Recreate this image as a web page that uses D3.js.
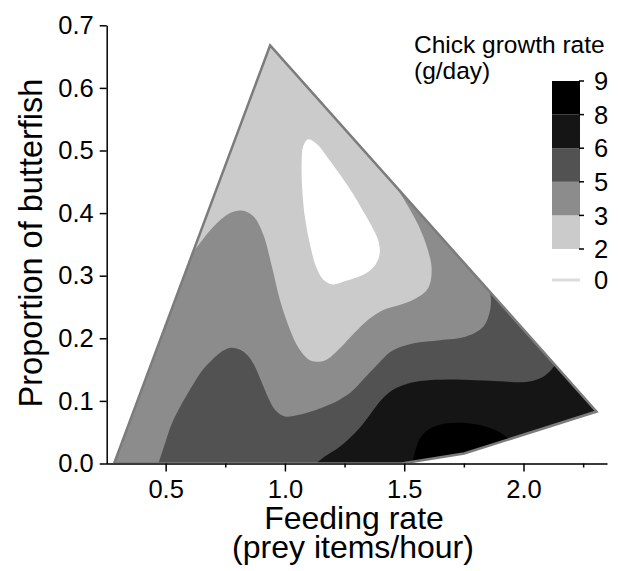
<!DOCTYPE html>
<html>
<head>
<meta charset="utf-8">
<script src="https://cdn.jsdelivr.net/npm/d3@7"></script>
<style>
  body { margin: 0; background: #fff; }
  svg text { font-family: "Liberation Sans", Arial, Helvetica, sans-serif; fill: #000; }
</style>
</head>
<body>
<svg id="chart" width="618" height="571"></svg>
<script>
'use strict';

// sampled region (feeding rate, proportion of butterfish)
var hull = [[0.284, 0], [0.938, 0.668], [2.306, 0.083], [1.751, 0.016], [1.49, 0]];

// contour lines of chick growth rate (g/day)
var contour2 = [
  [1.098, 0.518], [1.135, 0.510], [1.18, 0.488], [1.23, 0.462], [1.28, 0.434],
  [1.325, 0.405], [1.365, 0.378], [1.392, 0.355], [1.397, 0.335], [1.38, 0.318],
  [1.345, 0.305], [1.30, 0.297], [1.25, 0.291], [1.20, 0.286], [1.16, 0.294],
  [1.13, 0.315], [1.105, 0.350], [1.085, 0.39], [1.073, 0.435], [1.070, 0.48],
  [1.077, 0.507]
];
var contour3 = [
  [0.613, 0.336], [0.70, 0.378], [0.77, 0.400], [0.82, 0.404], [0.87, 0.394],
  [0.91, 0.365], [0.945, 0.315], [0.98, 0.26], [1.02, 0.215], [1.06, 0.183],
  [1.11, 0.164], [1.17, 0.165], [1.23, 0.184], [1.29, 0.208], [1.35, 0.230],
  [1.41, 0.245], [1.47, 0.252], [1.54, 0.262], [1.60, 0.280], [1.615, 0.31],
  [1.60, 0.34], [1.56, 0.38], [1.51, 0.415], [1.462, 0.444]
];
var contour5 = [
  [0.47, 0], [0.50, 0.035], [0.526, 0.064], [0.57, 0.097], [0.61, 0.123],
  [0.65, 0.147], [0.693, 0.165], [0.74, 0.180], [0.775, 0.185], [0.81, 0.182],
  [0.84, 0.174], [0.87, 0.158], [0.90, 0.132], [0.93, 0.105], [0.96, 0.085],
  [1.00, 0.075], [1.05, 0.077], [1.10, 0.082], [1.16, 0.090], [1.22, 0.100],
  [1.28, 0.115], [1.33, 0.135], [1.38, 0.155], [1.45, 0.180], [1.54, 0.192],
  [1.65, 0.197], [1.76, 0.203], [1.83, 0.218], [1.86, 0.245], [1.862, 0.268],
  [1.85, 0.279]
];
var contour6 = [
  [1.13, 0], [1.17, 0.012], [1.22, 0.024], [1.27, 0.04], [1.32, 0.06],
  [1.36, 0.08], [1.40, 0.10], [1.45, 0.117], [1.51, 0.127], [1.58, 0.132],
  [1.68, 0.134], [1.80, 0.133], [1.92, 0.131], [2.01, 0.130], [2.07, 0.136],
  [2.11, 0.147], [2.13, 0.157]
];
var contour8 = [
  [1.535, 0.003], [1.55, 0.025], [1.566, 0.040], [1.60, 0.054], [1.65, 0.062],
  [1.72, 0.065], [1.79, 0.063], [1.85, 0.058], [1.90, 0.050], [1.94, 0.039]
];

var levels = [0, 2, 3, 5, 6, 8, 9];
var colours = ['#ffffff', '#cbcbcb', '#8c8c8c', '#525252', '#151515', '#000000'];
var xTicks = [0.5, 1.0, 1.5, 2.0];
var xMinorTicks = [0.75, 1.25, 1.75, 2.25];
var yTicks = [0, 0.1, 0.2, 0.3, 0.4, 0.5, 0.6, 0.7];

var svg = d3.select('#chart');
var x = d3.scaleLinear().domain([0.25, 2.35]).range([106, 607]);
var y = d3.scaleLinear().domain([0, 0.7]).range([463.5, 25.3]);

var smooth = d3.line().x(function (d) { return x(d[0]); }).y(function (d) { return y(d[1]); })
  .curve(d3.curveCatmullRom.alpha(0.5));
var straight = d3.line().x(function (d) { return x(d[0]); }).y(function (d) { return y(d[1]); });

// region >= level: contour line, then back along the hull
var regions = [
  {band: 2, line: contour3, tail: [hull[2], hull[3], hull[4], hull[0]]},
  {band: 3, line: contour5, tail: [hull[2], hull[3], hull[4]]},
  {band: 4, line: contour6, tail: [hull[2], hull[3], hull[4]]},
  {band: 5, line: contour8, tail: [hull[3]]}
];

svg.append('clipPath').attr('id', 'hullClip')
  .append('path').attr('d', straight(hull) + 'Z');

var plot = svg.append('g').attr('clip-path', 'url(#hullClip)');

plot.append('path')
  .attr('d', straight(hull) + 'Z')
  .attr('fill', colours[1]);

plot.append('path')
  .attr('d', d3.line().x(function (d) { return x(d[0]); }).y(function (d) { return y(d[1]); })
    .curve(d3.curveCatmullRomClosed.alpha(0.5))(contour2))
  .attr('fill', colours[0]);

plot.selectAll('path.band')
  .data(regions)
  .enter().append('path')
  .attr('class', 'band')
  .attr('d', function (r) { return smooth(r.line) + straight(r.tail).replace('M', 'L') + 'Z'; })
  .attr('fill', function (r) { return colours[r.band]; });

svg.append('path')
  .attr('d', straight(hull) + 'Z')
  .attr('fill', 'none')
  .attr('stroke', '#7c7c7c')
  .attr('stroke-width', 2.5)
  .attr('stroke-linejoin', 'miter');

// axes
var gx = svg.append('g').attr('transform', 'translate(0,' + y(0) + ')')
  .call(d3.axisBottom(x).tickValues(xTicks).tickFormat(d3.format('.1f'))
    .tickSize(8).tickPadding(8).tickSizeOuter(0));
gx.append('g').call(d3.axisBottom(x).tickValues(xMinorTicks).tickFormat('')
  .tickSize(4).tickSizeOuter(0))
  .select('.domain').remove();
gx.select('.domain').attr('stroke', '#3a3a3a').attr('stroke-width', 2.2);

var gy = svg.append('g').attr('transform', 'translate(' + 106.7 + ',0)')
  .call(d3.axisLeft(y).tickValues(yTicks).tickFormat(d3.format('.1f'))
    .tickSize(7).tickPadding(6).tickSizeOuter(0));
gy.select('.domain').attr('stroke', '#000').attr('stroke-width', 1.5);

svg.selectAll('.tick line').attr('stroke', '#000').attr('stroke-width', 1.5);
svg.selectAll('.tick text').attr('font-size', 25.5).attr('font-family', null);
svg.selectAll('g').attr('font-family', null);

svg.append('text')
  .attr('x', 354).attr('y', 529)
  .attr('text-anchor', 'middle').attr('font-size', 32)
  .text('Feeding rate');
svg.append('text')
  .attr('x', 353).attr('y', 558)
  .attr('text-anchor', 'middle').attr('font-size', 32)
  .text('(prey items/hour)');
svg.append('text')
  .attr('transform', 'translate(42,243) rotate(-90)')
  .attr('text-anchor', 'middle').attr('font-size', 32.5)
  .text('Proportion of butterfish');

// legend
var legend = svg.append('g');
legend.append('text').attr('x', 414).attr('y', 53).attr('font-size', 24.5).text('Chick growth rate');
legend.append('text').attr('x', 414).attr('y', 79).attr('font-size', 24.5).text('(g/day)');

var ly = d3.scaleLinear().domain([1, 6]).range([249, 81]);
var bands = d3.range(1, 6);

legend.selectAll('rect')
  .data(bands)
  .enter().append('rect')
  .attr('x', 552).attr('width', 28)
  .attr('y', function (i) { return ly(i + 1); })
  .attr('height', function (i) { return ly(i) - ly(i + 1); })
  .attr('fill', function (i) { return colours[i]; });

legend.selectAll('line.tk')
  .data(d3.range(1, 7))
  .enter().append('line')
  .attr('class', 'tk')
  .attr('x1', 579).attr('x2', 584)
  .attr('y1', function (i) { return ly(i); }).attr('y2', function (i) { return ly(i); })
  .attr('stroke', '#000').attr('stroke-width', 1.5);

legend.selectAll('text.lab')
  .data(d3.range(1, 7))
  .enter().append('text')
  .attr('class', 'lab')
  .attr('x', 594).attr('y', function (i) { return ly(i); })
  .attr('dy', '0.36em').attr('font-size', 25.5)
  .text(function (i) { return levels[i]; });

legend.append('line')
  .attr('x1', 552).attr('x2', 580).attr('y1', 280).attr('y2', 280)
  .attr('stroke', '#dcdcdc').attr('stroke-width', 3);
legend.append('text')
  .attr('x', 594).attr('y', 280).attr('dy', '0.36em').attr('font-size', 25.5)
  .text(levels[0]);
</script>
</body>
</html>
